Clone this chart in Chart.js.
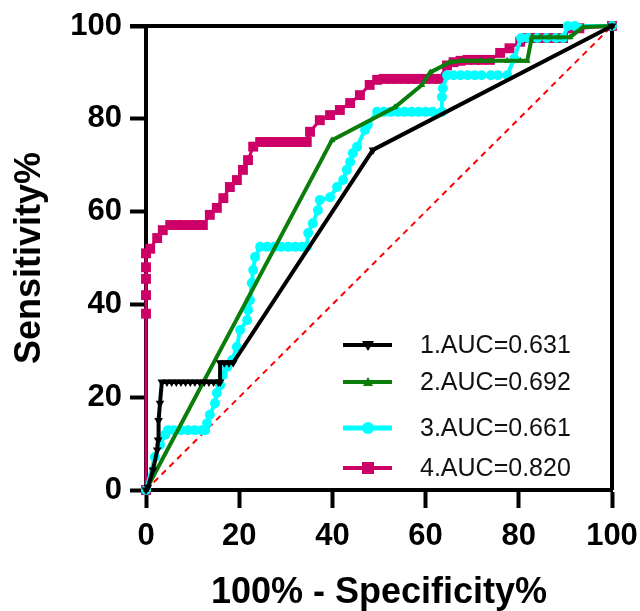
<!DOCTYPE html>
<html>
<head>
<meta charset="utf-8">
<script src="https://cdn.jsdelivr.net/npm/chart.js@4.4.1/dist/chart.umd.min.js"></script>
<style>
  html, body { margin: 0; padding: 0; background: #fff; }
  #wrap { width: 640px; height: 611px; }
</style>
</head>
<body>
<div id="wrap"><canvas id="c" width="640" height="611"></canvas></div>
<script>
// ---- data (100% - Specificity%, Sensitivity%) ----
const seriesLabels = ['1.AUC=0.631', '2.AUC=0.692', '3.AUC=0.661', '4.AUC=0.820'];
const xTicks = [0, 20, 40, 60, 80, 100];

const fpr1 = [0, 0.4, 1.5, 2.4, 2.6, 2.7, 3.0, 3.4, 4.5, 5.5, 6.5, 7.5, 8.5, 9.5, 10.5, 11.5, 12.5, 13.5, 14.5, 15.5, 15.9, 15.9, 16.8, 17.8, 18.7, 48.7, 100];
const sens1 = [0, 0.6, 4.3, 8.6, 10.8, 15, 18.7, 23.3, 23.3, 23.3, 23.3, 23.3, 23.3, 23.3, 23.3, 23.3, 23.3, 23.3, 23.3, 23.3, 23.3, 27.4, 27.4, 27.4, 27.4, 73.3, 100];

const fpr2 = [0, 39.9, 53.4, 59.2, 61.0, 65.2, 67.8, 71.7, 73.8, 77.5, 80.3, 81.8, 82.8, 84.5, 86.5, 88.5, 91.0, 93.8, 100];
const sens2 = [0, 75.4, 82.5, 87.3, 90.0, 92.2, 92.5, 92.5, 92.5, 92.5, 92.5, 92.5, 97.6, 97.6, 97.6, 97.6, 97.6, 99.8, 100];

const fpr3 = [0, 1.9, 3.0, 4.1, 4.7, 6, 7.5, 9, 10.5, 12, 12.7, 13.1, 13.7, 14.8, 15.2, 15.9, 16.5, 17.4, 18.5, 19.5, 20.2, 21.7, 21.9, 22.3, 22.7, 23.0, 23.4, 24.5, 26, 27.5, 29, 30.5, 32, 33.5, 34.5, 34.8, 35.8, 36.9, 37.3, 39.5, 41.0, 42.3, 43.1, 43.8, 44.4, 45.3, 47.0, 47.6, 49.6, 51, 52.5, 54, 55.5, 57, 58.5, 60, 61.5, 63.5, 63.5, 63.7, 64.6, 66, 67.5, 69, 70.5, 72, 74, 75.5, 77.5, 79, 80.5, 82, 84, 86, 88, 89.5, 90.5, 92, 100];
const sens3 = [0, 7.1, 9.7, 11.9, 12.9, 12.9, 12.9, 12.9, 12.9, 12.9, 12.9, 14.4, 16.2, 18.7, 20.9, 22.6, 24.8, 26.5, 28, 30.8, 34.5, 36.6, 38.8, 40.9, 44.6, 47.4, 50.2, 52.4, 52.4, 52.4, 52.4, 52.4, 52.4, 52.4, 52.4, 55.4, 57.5, 60.3, 62.5, 63.1, 65.3, 66.8, 69, 70.7, 72.6, 74, 77.6, 78.7, 81.5, 81.5, 81.5, 81.5, 81.5, 81.5, 81.5, 81.5, 81.5, 81.5, 84.7, 86.6, 89.4, 89.4, 89.4, 89.4, 89.4, 89.4, 89.4, 89.4, 89.4, 93, 97.4, 97.4, 97.4, 97.4, 97.4, 97.4, 100, 100, 100];

const fpr4 = [0, 0, 0, 0, 0, 0, 0.9, 2.4, 3.6, 5.2, 6.5, 8, 9.5, 11, 12.2, 13.7, 15.2, 16.6, 18.0, 19.5, 20.8, 21.9, 23.0, 24.5, 26, 27.5, 29, 30.5, 32, 33.5, 34.5, 35.2, 37.3, 39.5, 41.6, 43.8, 45.9, 48.0, 49.6, 51, 52.5, 54, 55.5, 57, 58.5, 60, 61.5, 63, 64.6, 66, 67.5, 69, 70.5, 72, 73.8, 76, 78, 80.3, 82, 84, 86, 88, 89.5, 91, 93, 100];
const sens4 = [0, 38, 42, 45.5, 48, 51, 52, 54.3, 56, 57.1, 57.1, 57.1, 57.1, 57.1, 57.1, 59.3, 60.8, 62.9, 65.3, 66.8, 69, 71.1, 74, 75, 75, 75, 75, 75, 75, 75, 75, 77.2, 79.7, 80.8, 81.9, 83.4, 85.1, 87.3, 88.4, 88.6, 88.6, 88.6, 88.6, 88.6, 88.6, 88.6, 88.6, 88.6, 91.5, 92.2, 92.5, 92.7, 92.7, 92.7, 92.7, 94.2, 95.2, 96.6, 97.4, 97.4, 97.4, 97.4, 97.4, 99.5, 99.5, 100];

const refX = [0, 100];
const refY = [0, 100];

// ---- styles ----
const colors = ['#000000', '#0a7d0a', '#00ffff', '#cc0066'];
const FONT = '"Liberation Sans", Arial, sans-serif';

function pts(xs, ys) { return xs.map((x, i) => ({ x: x, y: ys[i] })); }

const framePlugin = {
  id: 'frame',
  beforeDatasetsDraw(chart) {
    const { ctx, chartArea: a } = chart;
    ctx.save();
    ctx.strokeStyle = '#000';
    ctx.lineWidth = 4;
    ctx.beginPath();
    ctx.moveTo(a.left - 16, a.top);
    ctx.lineTo(a.right, a.top);
    ctx.lineTo(a.right, a.bottom);
    ctx.stroke();
    ctx.restore();
  }
};

function drawMarker(ctx, kind, x, y, color) {
  ctx.fillStyle = color;
  ctx.beginPath();
  if (kind === 'tdown') {
    ctx.moveTo(x - 6, y - 4); ctx.lineTo(x + 6, y - 4); ctx.lineTo(x, y + 6);
  } else if (kind === 'tup') {
    ctx.moveTo(x - 5, y + 4); ctx.lineTo(x + 5, y + 4); ctx.lineTo(x, y - 5);
  } else if (kind === 'circle') {
    ctx.arc(x, y, 6, 0, Math.PI * 2);
  } else {
    ctx.rect(x - 6, y - 6, 12, 12);
  }
  ctx.closePath();
  ctx.fill();
}

const legendPlugin = {
  id: 'customLegend',
  afterDatasetsDraw(chart) {
    const { ctx } = chart;
    const rows = [345, 382, 428, 468];
    const kinds = ['tdown', 'tup', 'circle', 'rect'];
    const widths = [4, 4, 5, 4];
    ctx.save();
    for (let i = 0; i < 4; i++) {
      const y = rows[i];
      ctx.strokeStyle = colors[i];
      ctx.lineWidth = widths[i];
      ctx.beginPath();
      ctx.moveTo(343, y);
      ctx.lineTo(392, y);
      ctx.stroke();
      drawMarker(ctx, kinds[i], 368, y, colors[i]);
      ctx.fillStyle = '#111';
      ctx.font = '25px ' + FONT;
      ctx.textAlign = 'left';
      ctx.textBaseline = 'middle';
      ctx.fillText(seriesLabels[i], 420, y + 1);
    }
    ctx.restore();
  }
};

const ctx = document.getElementById('c').getContext('2d');
new Chart(ctx, {
  type: 'line',
  data: {
    datasets: [
      {
        label: seriesLabels[0], data: pts(fpr1, sens1),
        borderColor: colors[0], backgroundColor: colors[0], borderWidth: 4,
        pointStyle: 'triangle', pointRotation: 180, pointRadius: 5, pointBorderWidth: 0,
        clip: false, order: 1
      },
      {
        label: seriesLabels[1], data: pts(fpr2, sens2),
        borderColor: colors[1], backgroundColor: colors[1], borderWidth: 4,
        pointStyle: 'triangle', pointRadius: 4, pointBorderWidth: 0,
        clip: false, order: 2
      },
      {
        label: seriesLabels[2], data: pts(fpr3, sens3),
        borderColor: colors[2], backgroundColor: colors[2], borderWidth: 4,
        pointStyle: 'circle', pointRadius: 5, pointBorderWidth: 0,
        clip: false, order: 3
      },
      {
        label: seriesLabels[3], data: pts(fpr4, sens4),
        borderColor: colors[3], backgroundColor: colors[3], borderWidth: 3,
        pointStyle: 'rect', pointRadius: 7, pointBorderWidth: 0,
        clip: false, order: 4
      },
      {
        label: 'ref', data: pts(refX, refY),
        borderColor: '#ff0000', borderWidth: 2, borderDash: [6, 5],
        pointRadius: 0, clip: false, order: 5
      }
    ]
  },
  options: {
    responsive: false,
    animation: false,
    devicePixelRatio: 1,
    layout: { padding: { top: 26, right: 28, left: 0, bottom: 0 } },
    plugins: { legend: { display: false }, tooltip: { enabled: false } },
    elements: { line: { tension: 0 } },
    scales: {
      x: {
        type: 'linear', min: 0, max: 100,
        afterFit(s) { s.height = 121; s.paddingLeft = 0; s.paddingRight = 0; },
        afterBuildTicks(s) { s.ticks = xTicks.map(v => ({ value: v })); },
        grid: { display: true, drawOnChartArea: false, drawTicks: true, tickLength: 18, tickWidth: 4, tickColor: '#000' },
        border: { display: true, width: 4, color: '#000' },
        ticks: { color: '#000', padding: 10, font: { family: FONT, size: 31, weight: 'bold' }, maxRotation: 0 },
        title: { display: true, text: '100% - Specificity%', color: '#000',
                 font: { family: FONT, size: 36, weight: 'bold', lineHeight: 1.0 }, padding: { top: 0, bottom: 0 } }
      },
      y: {
        type: 'linear', min: 0, max: 100,
        afterFit(s) { s.width = 146; s.paddingTop = 0; s.paddingBottom = 0; },
        afterBuildTicks(s) { s.ticks = xTicks.map(v => ({ value: v })); },
        grid: { display: true, drawOnChartArea: false, drawTicks: true, tickLength: 16, tickWidth: 4, tickColor: '#000' },
        border: { display: true, width: 4, color: '#000' },
        ticks: { color: '#000', padding: 8, font: { family: FONT, size: 31, weight: 'bold' } },
        title: { display: true, text: 'Sensitivity%', color: '#000',
                 font: { family: FONT, size: 36, weight: 'bold', lineHeight: 1.0 }, padding: { top: 12, bottom: 0 } }
      }
    }
  },
  plugins: [framePlugin, legendPlugin]
});
</script>
</body>
</html>
